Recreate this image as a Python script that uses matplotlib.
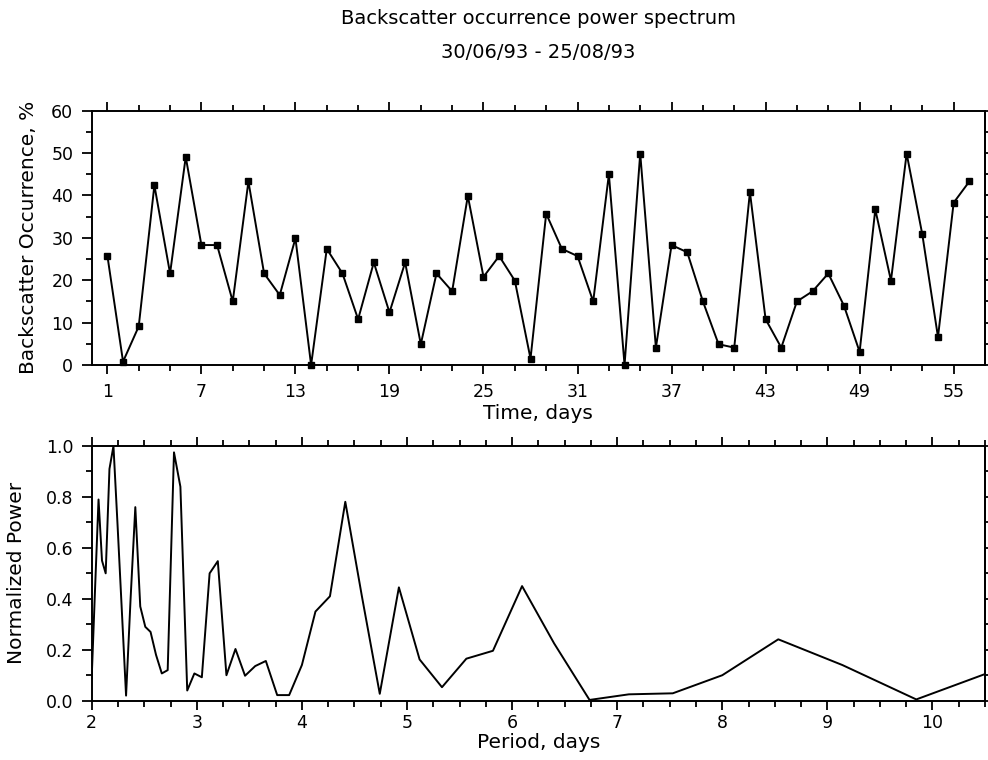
import numpy as np
import matplotlib
matplotlib.use("Agg")
import matplotlib.pyplot as plt

plt.rcParams['font.family'] = ['DejaVu Sans']

# ---- data ----
days = list(range(1, 57))
occurrence = [25.8, 0.8, 9.1, 42.4, 21.6, 49.1, 28.3, 28.3, 15.0, 43.3,
              21.6, 16.5, 29.9, 0.0, 27.4, 21.6, 10.8, 24.2, 12.4, 24.2,
              4.9, 21.6, 17.4, 39.9, 20.8, 25.7, 19.9, 1.5, 35.7, 27.4,
              25.7, 15.0, 45.0, 0.0, 49.9, 4.1, 28.3, 26.6, 15.0, 4.9,
              4.1, 40.8, 10.8, 4.1, 15.0, 17.4, 21.6, 14.0, 3.1, 36.7,
              19.9, 49.9, 30.8, 6.6, 38.3, 43.3]

period = [2.000, 2.032, 2.065, 2.098, 2.133, 2.169, 2.207, 2.246, 2.286, 2.327,
          2.370, 2.415, 2.462, 2.510, 2.560, 2.612, 2.667, 2.723, 2.783, 2.844,
          2.909, 2.977, 3.048, 3.122, 3.200, 3.282, 3.368, 3.459, 3.556, 3.657,
          3.765, 3.879, 4.000, 4.129, 4.267, 4.413, 4.571, 4.741, 4.923, 5.120,
          5.333, 5.565, 5.818, 6.095, 6.400, 6.737, 7.111, 7.529, 8.000, 8.533,
          9.143, 9.846, 10.667]
power = [0.09, 0.44, 0.79, 0.55, 0.50, 0.91, 1.00, 0.69, 0.36, 0.02,
         0.40, 0.76, 0.37, 0.29, 0.27, 0.18, 0.107, 0.12, 0.975, 0.84,
         0.04, 0.107, 0.092, 0.50, 0.548, 0.10, 0.203, 0.098, 0.136, 0.156,
         0.022, 0.022, 0.14, 0.35, 0.41, 0.781, 0.41, 0.027, 0.445, 0.162,
         0.053, 0.165, 0.196, 0.45, 0.225, 0.003, 0.025, 0.029, 0.10, 0.241,
         0.14, 0.005, 0.13]

top_xticks = [1, 7, 13, 19, 25, 31, 37, 43, 49, 55]
top_yticks = [0, 10, 20, 30, 40, 50, 60]
bot_xticks = [2, 3, 4, 5, 6, 7, 8, 9, 10]
bot_yticks = [0.0, 0.2, 0.4, 0.6, 0.8, 1.0]

title1 = "Backscatter occurrence power spectrum"
title2 = "30/06/93 - 25/08/93"

# ---- figure ----
W, H = 988, 760
fig = plt.figure(figsize=(W / 100, H / 100), dpi=100)

def px_axes(l, t, r, b):
    return [l / W, 1 - b / H, (r - l) / W, (b - t) / H]

ax1 = fig.add_axes(px_axes(91.7, 110.7, 985, 365))
ax2 = fig.add_axes(px_axes(91.7, 446, 985, 700.7))

LW = 1.4
TFS = 12.5
LFS = 14.5

for ax in (ax1, ax2):
    for s in ax.spines.values():
        s.set_linewidth(1.4)
    ax.tick_params(which='both', direction='out', top=True, bottom=True,
                   left=True, right=False, width=1.3, labelsize=TFS)
    ax.tick_params(axis='x', which='major', length=6.5)
    ax.tick_params(axis='x', which='minor', length=4.3)
    ax.tick_params(axis='y', which='major', length=7.2)
    ax.tick_params(axis='y', which='minor', length=4.3)

# top panel
ax1.plot(days, occurrence, color='black', lw=LW, marker='s', ms=4.5,
         mfc='black', mec='black', clip_on=False, zorder=3)
ax1.set_xlim(0, 57)
ax1.set_ylim(0, 60)
ax1.set_xticks(top_xticks)
ax1.set_xticks(np.arange(1, 57, 2), minor=True)
ax1.set_yticks(top_yticks)
ax1.set_yticks(np.arange(5, 60, 10), minor=True)
ax1.tick_params(axis='x', which='major', pad=6.5)
ax1.tick_params(axis='y', which='major', pad=6)
ax1.set_xlabel("Time, days", fontsize=LFS, labelpad=2)
ax1.set_ylabel("Backscatter Occurrence, %", fontsize=LFS, va='center', ha='center')
ax1.yaxis.set_label_coords((29 - 91.7) / 893.3, 0.5)
sec1 = ax1.secondary_yaxis('right')
sec1.set_yticks(np.arange(0, 61, 5))
sec1.tick_params(length=2.2, width=1.3, labelright=False, direction='out')
sec1.spines['right'].set_linewidth(1.4)

# bottom panel
ax2.plot(period, power, color='black', lw=LW, zorder=3)
ax2.set_xlim(2, 10.5)
ax2.set_ylim(0, 1.0)
ax2.set_xticks(bot_xticks)
ax2.set_xticks(np.arange(2, 10.51, 0.25), minor=True)
ax2.set_yticks(bot_yticks)
ax2.set_yticklabels([f"{v:.1f}" for v in bot_yticks])
ax2.set_yticks(np.arange(0.1, 1.0, 0.2), minor=True)
ax2.tick_params(axis='x', which='major', pad=3)
ax2.tick_params(axis='y', which='major', pad=6)
ax2.set_xlabel("Period, days", fontsize=LFS, labelpad=1)
ax2.set_ylabel("Normalized Power", fontsize=LFS, va='center', ha='center')
ax2.yaxis.set_label_coords((17 - 91.7) / 893.3, 0.5)
sec2 = ax2.secondary_yaxis('right')
sec2.set_yticks(np.arange(0, 1.01, 0.1))
sec2.tick_params(length=2.2, width=1.3, labelright=False, direction='out')
sec2.spines['right'].set_linewidth(1.4)

cx = (91.7 + 985) / 2 / W
fig.text(cx, 1 - 19 / H, title1, ha='center', va='center', fontsize=14)
fig.text(cx, 1 - 53 / H, title2, ha='center', va='center', fontsize=14)

fig.savefig("out.png", dpi=100)
